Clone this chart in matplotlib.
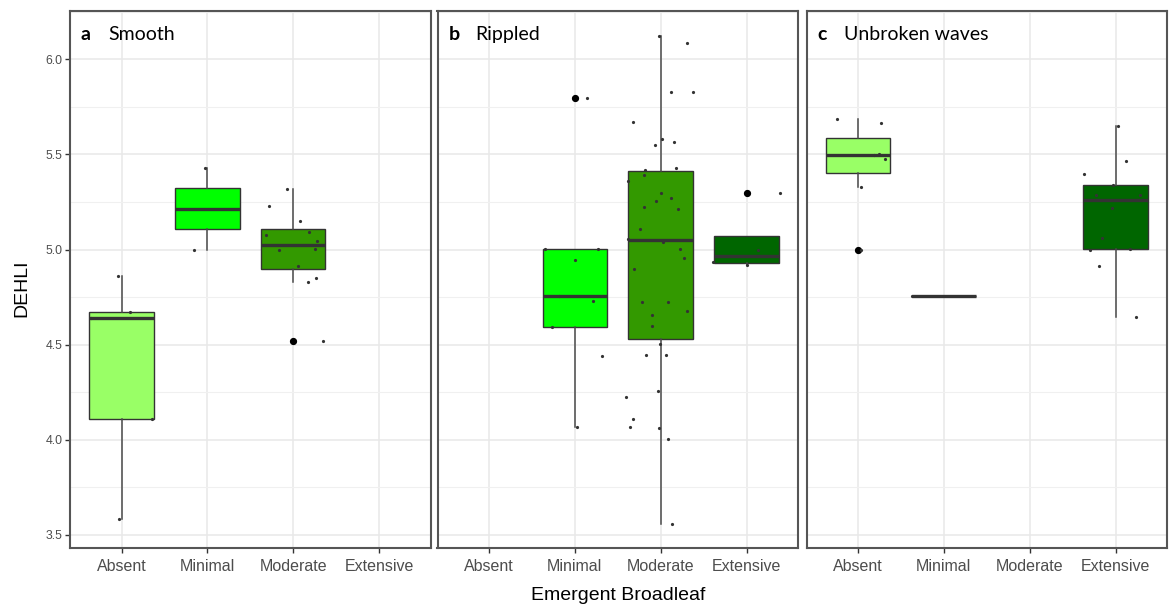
import matplotlib.pyplot as plt
from matplotlib.ticker import MultipleLocator

cats = ['Absent', 'Minimal', 'Moderate', 'Extensive']
box_colors = ['#99FF66', '#00FF00', '#339900', '#006600']
panel_names = ['Smooth', 'Rippled', 'Unbroken waves']
panel_letters = ['a', 'b', 'c']
yticks = [3.5, 4.0, 4.5, 5.0, 5.5, 6.0]

# a - Smooth
a_absent = [4.86, 4.67, 4.64, 4.11, 3.58]
a_absent_jit = [-0.04, 0.10, -0.35, 0.36, -0.03]
a_minimal = [5.43, 5.0]
a_minimal_jit = [-0.03, -0.16]
a_moderate = [5.319, 5.23, 5.149, 5.091, 5.079, 5.044, 5.004, 4.996, 4.912,
              4.851, 4.828, 4.521]
a_moderate_jit = [-0.07, -0.28, 0.085, 0.19, -0.32, 0.28, 0.25, -0.16, 0.06,
                  0.27, 0.17, 0.345]

# b - Rippled
b_minimal = [5.795, 5.004, 5.004, 4.946, 4.757, 4.73, 4.591, 4.44, 4.068]
b_minimal_jit = [0.136, -0.35, 0.266, 0.0, -0.19, 0.21, -0.266, 0.32, 0.03]
b_moderate = [6.123, 6.088, 5.828, 5.828, 5.67, 5.579, 5.567, 5.549, 5.428,
              5.421, 5.393, 5.363, 5.295, 5.27, 5.253, 5.225, 5.212, 5.107,
              5.056, 5.039, 5.004, 4.953, 4.898, 4.725, 4.725, 4.677, 4.654,
              4.597, 4.505, 4.446, 4.446, 4.254, 4.225, 4.109, 4.068, 4.063,
              4.005, 3.556]
b_moderate_jit = [-0.02, 0.31, 0.12, 0.38, -0.32, 0.015, 0.15, -0.07, 0.18,
                  -0.18, -0.2, -0.38, 0.0, 0.12, -0.05, -0.19, 0.2, -0.24,
                  -0.38, 0.03, 0.22, 0.27, -0.31, -0.22, 0.08, 0.31, -0.1,
                  -0.1, -0.01, -0.17, 0.06, -0.03, -0.4, -0.32, -0.36, -0.02,
                  0.09, 0.13]
b_extensive = [5.295, 4.998, 4.916, 4.933]
b_extensive_jit = [0.39, 0.13, 0.01, -0.39]

# c - Unbroken waves
c_absent = [5.689, 5.665, 5.504, 5.496, 5.474, 5.328, 5.0]
c_absent_jit = [-0.24, 0.27, 0.24, 0.19, 0.32, 0.04, 0.03]
c_minimal = [4.755]
c_minimal_jit = [-0.37]
c_extensive = [5.649, 5.467, 5.398, 5.288, 5.34, 5.288, 5.217, 5.061, 5.004,
               4.911, 4.644, 5.0, 5.258]
c_extensive_jit = [0.03, 0.12, -0.37, -0.23, -0.03, 0.29, -0.04, -0.16, 0.17,
                   -0.19, 0.24, -0.3, 0.1]

panels = [
    {0: (a_absent, a_absent_jit), 1: (a_minimal, a_minimal_jit),
     2: (a_moderate, a_moderate_jit)},
    {1: (b_minimal, b_minimal_jit), 2: (b_moderate, b_moderate_jit),
     3: (b_extensive, b_extensive_jit)},
    {0: (c_absent, c_absent_jit), 1: (c_minimal, c_minimal_jit),
     3: (c_extensive, c_extensive_jit)},
]

W, H = 1171, 610
fig = plt.figure(figsize=(W / 100, H / 100), dpi=100)
lefts = [70, 437.5, 806.5]
top_px, bot_px = 11, 548.3

for i, groups in enumerate(panels):
    ax = fig.add_axes([lefts[i] / W, 1 - bot_px / H, 360.5 / W, (bot_px - top_px) / H])
    for k, (vals, jit) in groups.items():
        pos = k + 1
        ax.boxplot(vals, positions=[pos], widths=0.75, whis=1.5,
                   patch_artist=True, showcaps=False, manage_ticks=False,
                   boxprops=dict(facecolor=box_colors[k], edgecolor='#333333', linewidth=1.0),
                   whiskerprops=dict(color='#4A4A4A', linewidth=1.1),
                   medianprops=dict(color='#333333', linewidth=2.4),
                   flierprops=dict(marker='o', markerfacecolor='black',
                                   markeredgecolor='black', markersize=4.2),
                   zorder=2)
        ax.plot([pos + j for j in jit], vals, 'o', color='#333333',
                markersize=2.3, markeredgewidth=0, zorder=3)

    ax.set_xlim(0.4, 4.6)
    ax.set_ylim(3.428, 6.255)
    ax.set_xticks(range(1, 5))
    ax.set_xticklabels(cats, fontsize=11.5, color='#4D4D4D', family='Liberation Sans')
    ax.set_yticks(yticks)
    ax.yaxis.set_minor_locator(MultipleLocator(0.25))
    ax.tick_params(axis='y', which='minor', length=0)
    ax.tick_params(axis='x', length=3.5, width=1.0, color='#333333', pad=4)
    if i == 0:
        ax.set_yticklabels([f'{v:.1f}' for v in yticks], fontsize=8.8,
                           color='#4D4D4D', family='Liberation Sans')
        ax.tick_params(axis='y', which='major', length=3.5, width=1.0,
                       color='#333333', pad=2)
    else:
        ax.tick_params(axis='y', which='major', length=0, labelleft=False)
    ax.grid(True, which='major', color='#E8E8E8', linewidth=1.1, zorder=0)
    ax.grid(True, which='minor', axis='y', color='#F0F0F0', linewidth=0.8, zorder=0)
    ax.set_axisbelow(True)
    for s in ax.spines.values():
        s.set_color('#555555')
        s.set_linewidth(1.5)
    ax.text(0.03, 0.946, panel_letters[i], transform=ax.transAxes, fontsize=14,
            fontweight='bold', family='Lato', va='baseline')
    ax.text(0.105, 0.946, panel_names[i], transform=ax.transAxes, fontsize=14,
            family='Lato', va='baseline')

fig.text(22 / W, 1 - 288 / H, 'DEHLI', rotation=90, ha='center', va='center',
         fontsize=14, family='Liberation Sans')
fig.text(618 / W, 1 - 596 / H, 'Emergent Broadleaf', ha='center', va='center',
         fontsize=14, family='Liberation Sans')

fig.savefig('out.png', dpi=100)
